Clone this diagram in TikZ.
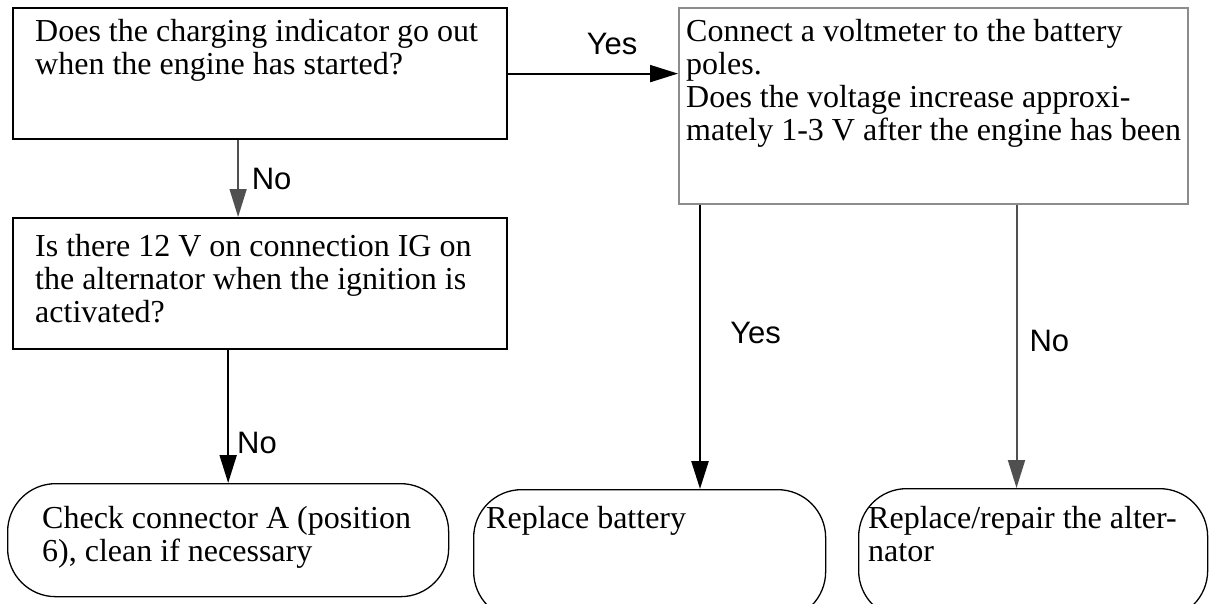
\documentclass[tikz,border=0pt]{standalone}
\usepackage{fontspec}
\setmainfont{Liberation Serif}
\setsansfont{Liberation Sans}
\usetikzlibrary{arrows.meta, positioning, calc}
\definecolor{framegray}{RGB}{140,140,140}
\definecolor{linegray}{RGB}{80,80,80}

\begin{document}
\begin{tikzpicture}[x=1pt, y=-1pt, >={Triangle[length=28pt, width=17pt]},
    qbox/.style={draw, line width=2.2pt, anchor=north west, inner sep=0pt},
    rbox/.style={draw, line width=1.3pt, rounded corners=48pt, anchor=north west, inner sep=0pt},
    qtext/.style={anchor=north west, align=left, inner sep=0pt, font=\fontsize{32}{33}\selectfont},
    lab/.style={inner sep=0pt, font=\sffamily\fontsize{31}{31}\selectfont},
    flow/.style={->, line width=2pt}]
        \useasboundingbox (0,0) rectangle (1209,603);
        \clip (0,0) rectangle (1209,603);

        % --- Questions ---
        \node[qbox, minimum width=494pt, minimum height=131pt] (q1) at (12,7) {};
        \node[qtext] (t1) at ([shift={(23,12)}]q1.north west)
            {Does the charging indicator go out\\when the engine has started?};

        \node[qbox, draw=framegray, line width=1.5pt, minimum width=509pt, minimum height=196pt] (q2) at (678,7) {};
        \node[qtext] (t2) at ([shift={(8,12)}]q2.north west)
            {Connect a voltmeter to the battery\\poles.\\Does the voltage increase approxi-\\mately 1-3 V after the engine has been};

        \node[qbox, minimum width=494pt, minimum height=131pt] (q3) at (12,217) {};
        \node[qtext] (t3) at ([shift={(23,17)}]q3.north west)
            {Is there 12 V on connection IG on\\the alternator when the ignition is\\activated?};

        % --- Actions (en bas) ---
        \node[rbox, minimum width=441pt, minimum height=113pt] (r1) at (7,483) {};
        \node[qtext] (s1) at ([shift={(35,23)}]r1.north west)
            {Check connector A (position\\6), clean if necessary};

        \node[rbox, minimum width=352pt, minimum height=130pt] (r2) at (473,489) {};
        \node[qtext] (s2) at ([shift={(13,17)}]r2.north west) {Replace battery};

        \node[rbox, minimum width=349pt, minimum height=130pt] (r3) at (858,488) {};
        \node[qtext] (s3) at ([shift={(10,18)}]r3.north west)
            {Replace/repair the alter-\\nator};

        % --- Flèches ---
        \draw[flow] (q1.east) -- (q2.west |- q1.east)
            node[lab, midway, above=18pt, xshift=19pt] {Yes};
        \draw[flow, draw=linegray, line width=1.5pt] ([xshift=-22pt]q1.south) -- ([xshift=-22pt]q1.south |- q3.north)
            node[lab, midway, anchor=west, xshift=13pt] {No};
        \draw[flow] (q3.south -| r1.north) -- (r1.north)
            node[lab, pos=0.7, anchor=west, xshift=8pt] {No};
        \draw[flow, line width=2.6pt] ([xshift=22pt]q2.south west) -- ([xshift=22pt]q2.south west |- r2.north)
            node[lab, pos=0.45, anchor=west, xshift=29pt] {Yes};
        \draw[flow, draw=linegray] ([xshift=-172pt]q2.south east) -- ([xshift=-172pt]q2.south east |- r3.north)
            node[lab, pos=0.48, anchor=west, xshift=12pt] {No};
\end{tikzpicture}
\end{document}
